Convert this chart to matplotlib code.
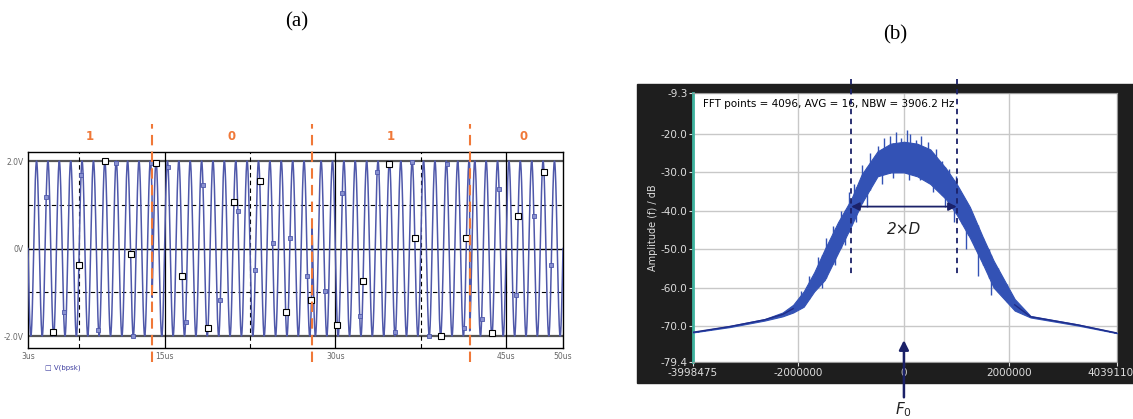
import numpy as np
import matplotlib
matplotlib.use('Agg')
import matplotlib.pyplot as plt
import matplotlib.transforms as mtransforms
from matplotlib.patches import Rectangle

# (a) BPSK waveform
bits = [1, 0, 1, 0]
bit_edges_us = [3.0, 13.9, 27.95, 41.8, 50.0]
carrier_mhz = 1.0
amp_v = 2.0
x_ticks_us = [3, 15, 30, 45, 50]
x_tick_labels = ['3us', '15us', '30us', '45us', '50us']
y_ticks_v = [2.0, 0.0, -2.0]
y_tick_labels = ['2.0V', '0V', '-2.0V']
trace_name = 'V(bpsk)'

# (b) spectrum envelope (MHz offset from F0, dB)
spec_mhz = [-4.0, -3.3, -2.64, -2.3, -2.1, -1.9, -1.7, -1.5, -1.25, -1.0, -0.8, -0.5,
            -0.25, 0.0, 0.25, 0.5, 0.8, 1.0, 1.25, 1.5, 1.7, 1.9, 2.1, 2.4, 3.3, 4.04]
spec_hi = [-71.6, -70.0, -68.2, -66.5, -64.5, -61.0, -56.0, -50.0, -43.0, -37.0, -30.5, -24.5,
           -22.5, -22.0, -22.5, -24.0, -29.0, -33.0, -39.0, -47.0, -53.0, -58.0, -63.0, -67.4, -69.6, -71.8]
spec_lo = [-71.7, -70.3, -68.6, -67.5, -66.5, -65.0, -61.0, -58.0, -51.0, -44.0, -38.0, -31.0,
           -30.0, -30.0, -31.0, -33.0, -37.0, -41.0, -47.0, -54.0, -60.0, -63.0, -66.0, -67.8, -69.9, -71.9]
# spikes above the band
spike_mhz = [-1.95, -1.8, -1.62, -1.48, -1.35, -1.2, -1.05, -0.95, -0.8, -0.65, -0.5, -0.38,
             -0.27, -0.15, -0.05, 0.05, 0.12, 0.22, 0.33, 0.45, 0.6, 0.72, 0.85, 0.98,
             1.1, 1.22, 1.35, 1.5, 1.62, 1.78, 1.95]
spike_top = [-61, -57, -52, -47, -44, -40, -35, -33, -28, -25, -23, -21,
             -20.5, -19.5, -21, -19, -20, -21.5, -20.5, -22, -24, -27, -29, -31,
             -36, -40, -43, -47, -50, -55, -59]
# dips below the band
dip_mhz = [-1.55, -1.3, -1.12, -0.9, -0.7, -0.42, -0.2, 0.1, 0.3, 0.55, 0.78, 0.95,
           1.18, 1.4, 1.65]
dip_bot = [-60, -54, -49, -43, -39, -33, -31.5, -32, -32, -35, -39, -43, -50, -57, -62]
f_ticks = [-3998475, -2000000, 0, 2000000, 4039110]
db_ticks = [-9.3, -20.0, -30.0, -40.0, -50.0, -60.0, -70.0, -79.4]
fft_note = 'FFT points = 4096, AVG = 16, NBW = 3906.2 Hz'
half_bw_mhz = 1.0

W, H = 1133, 419
fig = plt.figure(figsize=(W / 100, H / 100), dpi=100)


def px_axes(x0, y0, x1, y1):
    return fig.add_axes([x0 / W, 1 - y1 / H, (x1 - x0) / W, (y1 - y0) / H])


# ---------------- (a) ----------------
ax = px_axes(28, 152, 563, 348)
t = np.linspace(3, 50, 6000)
sign = np.ones_like(t)
for b, t0, t1 in zip(bits, bit_edges_us[:-1], bit_edges_us[1:]):
    sign[(t >= t0) & (t < t1)] = 1 if b else -1
v = amp_v * sign * np.sin(2 * np.pi * carrier_mhz * (t - 3.5))
blue = '#4f58aa'
ax.plot(t, v, color=blue, lw=1.1, zorder=3)

# trace markers, PSpice style
tb = np.arange(4.6, 50, 1.53)
vb = np.interp(tb, t, v)
ax.plot(tb, vb, 's', ms=3.5, mfc='#8890d0', mec=blue, mew=0.6, zorder=4)
tk = np.arange(5.2, 50, 2.27)
vk = np.interp(tk, t, v)
ax.plot(tk, vk, 's', ms=4, mfc='white', mec='black', mew=0.8, zorder=5)

ax.set_xlim(3, 50)
ax.set_ylim(-2.274, 2.206)
for yv in (2, -2):
    ax.axhline(yv, color='#555555', lw=1.6, zorder=1)
ax.axhline(0, color='black', lw=1.0, zorder=1)
for yv in (1, -1):
    ax.axhline(yv, color='black', lw=0.8, ls=(0, (4, 3)), zorder=1)
for xv in (15, 30, 45):
    ax.axvline(xv, color='black', lw=0.9, zorder=1)
for xv in (7.5, 22.5, 37.5):
    ax.axvline(xv, color='black', lw=0.8, ls=(0, (4, 3)), zorder=1)
for s in ax.spines.values():
    s.set_color('black')
    s.set_linewidth(1.0)
ax.set_xticks(x_ticks_us)
ax.set_xticklabels(x_tick_labels, fontsize=5.5, color='#666666')
ax.set_yticks(y_ticks_v)
ax.set_yticklabels(y_tick_labels, fontsize=5.5, color='#666666')
ax.tick_params(length=0, pad=3)

orange = '#f07838'
for xe in bit_edges_us[1:-1]:
    ax.plot([xe, xe], [-2.6, 2.85], color=orange, lw=1.5, ls=(0, (5, 3)),
            clip_on=False, zorder=6)
for b, t0, t1 in zip(bits, bit_edges_us[:-1], bit_edges_us[1:]):
    tc = (t0 + t1) / 2 if t1 < 50 else t0 + 4.7
    ax.text(tc, 2.55, str(b), color=orange, fontsize=8.5, fontweight='bold',
            ha='center', va='center')
ax.text(4.5, -2.72, '\u25a1 ' + trace_name, fontsize=5, color='#4040a0',
        ha='left', va='center')

fig.text(297 / W, 1 - 22 / H, '(a)', fontsize=15, family='Liberation Serif',
         ha='center', va='center')
fig.text(895 / W, 1 - 35 / H, '(b)', fontsize=15, family='Liberation Serif',
         ha='center', va='center')

# ---------------- (b) ----------------
fig.patches.append(Rectangle((637 / W, 1 - 383 / H), (W - 637) / W, 299 / H,
                             transform=fig.transFigure, color='#1e1e1e', zorder=-10))
bx = px_axes(693, 93, 1117, 362)
bx.set_facecolor('white')
f_hz = np.array(spec_mhz) * 1e6
lo = np.array(spec_lo)
hi = np.array(spec_hi)
spec_blue = '#3352b5'
bx.fill_between(f_hz, lo, hi, color=spec_blue, lw=0.8, ec=spec_blue, zorder=3)
mid = (lo + hi) / 2
bx.plot(f_hz[f_hz <= -2.0e6], mid[f_hz <= -2.0e6], color='#1f2c88', lw=1.0, zorder=3)
bx.plot(f_hz[f_hz >= 2.0e6], mid[f_hz >= 2.0e6], color='#1f2c88', lw=1.0, zorder=3)
sp_hz = np.array(spike_mhz) * 1e6
bx.vlines(sp_hz, np.interp(sp_hz, f_hz, lo), spike_top, color=spec_blue, lw=1.0, zorder=3)
dp_hz = np.array(dip_mhz) * 1e6
bx.vlines(dp_hz, np.interp(dp_hz, f_hz, hi), dip_bot, color=spec_blue, lw=1.0, zorder=3)

bx.set_xlim(f_ticks[0], f_ticks[-1])
bx.set_ylim(db_ticks[-1], db_ticks[0])
bx.set_xticks(f_ticks)
bx.set_xticklabels([str(f) for f in f_ticks])
bx.set_yticks(db_ticks)
bx.set_yticklabels([f'{d:.1f}' for d in db_ticks])
bx.tick_params(colors='#dddddd', labelsize=7.5, length=3, width=0.8, pad=1)
# keep the last frequency label inside the picture
last = bx.get_xticklabels()[-1]
last.set_transform(last.get_transform() +
                   mtransforms.ScaledTranslation(-7 / 100, 0, fig.dpi_scale_trans))
bx.grid(True, color='#c8c8c8', lw=1.0)
bx.set_axisbelow(True)
for s in bx.spines.values():
    s.set_color('#999999')
bx.spines['left'].set_color('#3fb39f')
bx.spines['left'].set_linewidth(2)
bx.set_ylabel('Amplitude (f) / dB', color='#dddddd', fontsize=7, labelpad=2)
bx.text(0.024, 0.959, fft_note, transform=bx.transAxes, fontsize=7.5,
        ha='left', va='center', color='black')

navy = '#1b2168'
for fx in (-half_bw_mhz * 1e6, half_bw_mhz * 1e6):
    bx.plot([fx, fx], [-5.6, -56.6], color=navy, lw=1.3, ls=(0, (3, 2.5)),
            clip_on=False, zorder=5)
bx.annotate('', xy=(half_bw_mhz * 1e6, -38.9), xytext=(-half_bw_mhz * 1e6, -38.9),
            arrowprops=dict(arrowstyle='<|-|>', color=navy, lw=1.3,
                            mutation_scale=12, shrinkA=0, shrinkB=0), zorder=5)
bx.text(0, -44.9, '2\u00d7D', fontsize=11, style='italic', ha='center', va='center',
        color='#222222')
bx.annotate('', xy=(0, -73.7), xytext=(0, -88.6), xycoords='data',
            arrowprops=dict(arrowstyle='-|>', color=navy, lw=1.8,
                            mutation_scale=14, shrinkA=0, shrinkB=0),
            annotation_clip=False, zorder=6)
bx.text(0, -91.8, r'$F_0$', fontsize=11, ha='center', va='center', color='#222222')

fig.savefig('out.png', dpi=100)
